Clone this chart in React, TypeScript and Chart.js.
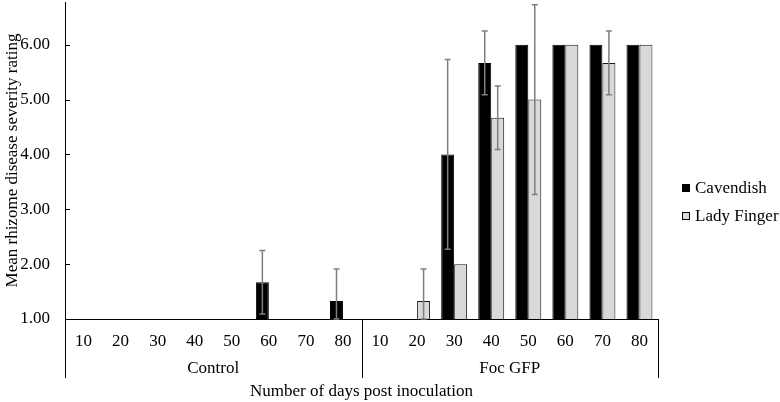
import React, { useEffect, useRef } from "react";
import { Chart, registerables } from "chart.js";

Chart.register(...registerables);

const categories = ["10", "20", "30", "40", "50", "60", "70", "80", "10", "20", "30", "40", "50", "60", "70", "80"];
const groups = ["Control", "Foc GFP"];
const groupSize = 8;
const cavendish = [1, 1, 1, 1, 1, 1.67, 1, 1.33, 1, 1, 4.0, 5.67, 6, 6, 6, 6];
const cavendishErr = [0, 0, 0, 0, 0, 0.58, 0, 0.58, 0, 0, 1.73, 0.58, 0, 0, 0, 0];
const ladyFinger = [1, 1, 1, 1, 1, 1, 1, 1, 1, 1.33, 2.0, 4.67, 5.0, 6, 5.67, 6];
const ladyFingerErr = [0, 0, 0, 0, 0, 0, 0, 0, 0, 0.58, 0, 0.58, 1.73, 0, 0.58, 0];
const yTicks = [1, 2, 3, 4, 5, 6];

const FONT = "'Liberation Serif', 'Times New Roman', serif";
const FS = 17;

const errorBarsPlugin = {
  id: "errorBars",
  afterDatasetsDraw(chart: any) {
    const ctx = chart.ctx;
    const y = chart.scales.y;
    ctx.save();
    ctx.strokeStyle = "#7f7f7f";
    ctx.lineWidth = 1.5;
    chart.data.datasets.forEach((ds: any, di: number) => {
      const meta = chart.getDatasetMeta(di);
      meta.data.forEach((bar: any, i: number) => {
        const e = ds.errors ? ds.errors[i] : 0;
        if (!e) return;
        const v = ds.data[i];
        const yt = y.getPixelForValue(v + e);
        const yb = y.getPixelForValue(Math.max(v - e, y.min));
        const x = bar.x;
        ctx.beginPath();
        ctx.moveTo(x, yt);
        ctx.lineTo(x, yb);
        ctx.moveTo(x - 3, yt);
        ctx.lineTo(x + 3, yt);
        ctx.moveTo(x - 3, yb);
        ctx.lineTo(x + 3, yb);
        ctx.stroke();
      });
    });
    ctx.restore();
  },
};

const decorPlugin = {
  id: "decor",
  afterDraw(chart: any) {
    const ctx = chart.ctx;
    const x = chart.scales.x;
    const y = chart.scales.y;
    const area = chart.chartArea;
    ctx.save();
    ctx.strokeStyle = "#000";
    ctx.lineWidth = 1;
    yTicks.forEach((t) => {
      const py = Math.round(y.getPixelForValue(t)) + 0.5;
      ctx.beginPath();
      ctx.moveTo(area.left, py);
      ctx.lineTo(area.left + 5, py);
      ctx.stroke();
    });
    const half = (x.getPixelForValue(1) - x.getPixelForValue(0)) / 2;
    const bounds: number[] = [];
    for (let g = 0; g <= groups.length; g++) {
      const idx = g * groupSize;
      bounds.push(idx < categories.length ? x.getPixelForValue(idx) - half : x.getPixelForValue(categories.length - 1) + half);
    }
    bounds.forEach((bx) => {
      const px = Math.round(bx) + 0.5;
      ctx.beginPath();
      ctx.moveTo(px, area.bottom);
      ctx.lineTo(px, area.bottom + 59);
      ctx.stroke();
    });
    ctx.fillStyle = "#000";
    ctx.font = `${FS}px ${FONT}`;
    ctx.textAlign = "center";
    ctx.textBaseline = "middle";
    groups.forEach((g, i) => {
      ctx.fillText(g, (bounds[i] + bounds[i + 1]) / 2, area.bottom + 50);
    });
    const lx = area.right + 24;
    const ly0 = 188;
    ctx.textAlign = "left";
    chart.data.datasets.forEach((ds: any, i: number) => {
      const ly = ly0 + i * 28;
      ctx.fillStyle = ds.backgroundColor;
      ctx.fillRect(lx, ly - 4, 8, 8);
      ctx.strokeStyle = "#000";
      ctx.lineWidth = 1;
      ctx.strokeRect(lx + 0.5, ly - 3.5, 7, 7);
      ctx.fillStyle = "#000";
      ctx.fillText(ds.label, lx + 13, ly + 1);
    });
    ctx.restore();
  },
};

export default function App() {
  const ref = useRef<HTMLCanvasElement | null>(null);
  useEffect(() => {
    if (!ref.current) return;
    const chart = new Chart(ref.current, {
      type: "bar",
      data: {
        labels: categories,
        datasets: [
          {
            label: "Cavendish",
            data: cavendish,
            errors: cavendishErr,
            backgroundColor: "#000000",
            borderColor: "#000000",
            borderWidth: 1,
          } as any,
          {
            label: "Lady Finger",
            data: ladyFinger,
            errors: ladyFingerErr,
            backgroundColor: "#d9d9d9",
            borderColor: "#1a1a1a",
            borderWidth: 1,
          } as any,
        ],
      },
      options: {
        responsive: false,
        animation: false,
        layout: { padding: { left: 0, right: 122, top: 2, bottom: 0 } },
        datasets: { bar: { categoryPercentage: 0.7, barPercentage: 1.0 } },
        plugins: { legend: { display: false }, tooltip: { enabled: false } },
        scales: {
          x: {
            afterFit: (scale: any) => {
              scale.height = 83;
              scale.paddingLeft = 0;
              scale.paddingRight = 0;
            },
            grid: { display: false, drawTicks: false },
            border: { display: true, color: "#000", width: 1 },
            ticks: { color: "#000", font: { family: FONT, size: FS }, padding: 12, maxRotation: 0, autoSkip: false },
            title: {
              display: true,
              text: "Number of days post inoculation",
              color: "#000",
              font: { family: FONT, size: FS },
              padding: { top: 30, bottom: 0 },
            },
          },
          y: {
            min: 1,
            max: 6.78,
            afterBuildTicks: (scale: any) => {
              scale.ticks = yTicks.map((v) => ({ value: v }));
            },
            afterFit: (scale: any) => {
              scale.width = 65;
              scale.paddingTop = 0;
              scale.paddingBottom = 0;
            },
            grid: { display: false, drawTicks: false },
            border: { display: true, color: "#000", width: 1 },
            ticks: {
              color: "#000",
              font: { family: FONT, size: FS },
              padding: 15,
              callback: (v: any) => Number(v).toFixed(2),
            },
            title: {
              display: true,
              text: "Mean rhizome disease severity rating",
              color: "#000",
              font: { family: FONT, size: FS },
              padding: { top: 2, bottom: 1 },
            },
          },
        },
      },
      plugins: [errorBarsPlugin, decorPlugin],
    });
    return () => chart.destroy();
  }, []);
  return (
    <div style={{ position: "fixed", left: 0, top: 0, width: 780, height: 402, background: "#fff" }}>
      <canvas ref={ref} width={780} height={402} style={{ display: "block" }} />
    </div>
  );
}
